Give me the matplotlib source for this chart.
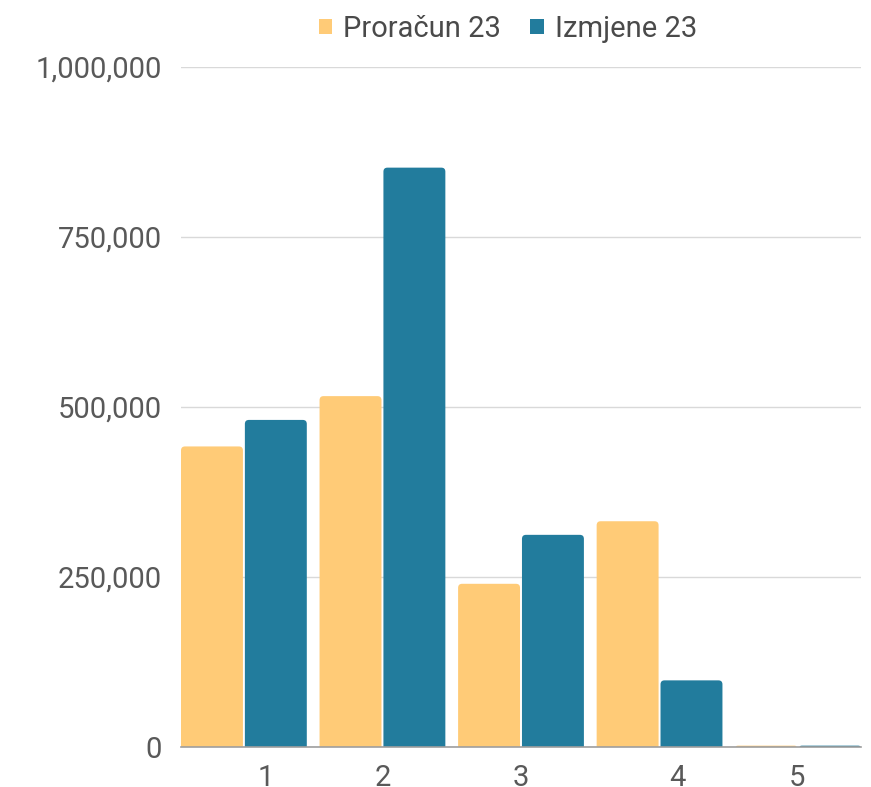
import matplotlib
matplotlib.use("Agg")
import matplotlib.pyplot as plt
import numpy as np
from matplotlib.ticker import FuncFormatter
from matplotlib.patches import FancyBboxPatch

categories = ["1", "2", "3", "4", "5"]
proracun_23 = [442000, 516000, 240000, 332000, 2000]
izmjene_23 = [481000, 852000, 312000, 98000, 2000]
series_names = ["Proračun 23", "Izmjene 23"]
y_ticks = [0, 250000, 500000, 750000, 1000000]

# label x-offsets (in group units) as they appear in the reference
label_offsets = [0.16, 0.0, 0.0, 0.13, -0.01]

plt.rcParams['font.family'] = ['Roboto', 'DejaVu Sans']

fig = plt.figure(figsize=(8.71, 7.87), dpi=100)
ax = fig.add_axes([181/871, 40/787, 680/871, 680/787])

x = np.arange(1, len(categories) + 1)
w = 0.447
gap = 0.014
c1, c2 = "#FFCB77", "#227C9D"
b1 = ax.bar(x - w/2 - gap/2, proracun_23, width=w, color=c1, label=series_names[0], zorder=3)
b2 = ax.bar(x + w/2 + gap/2, izmjene_23, width=w, color=c2, label=series_names[1], zorder=3)

ax.set_xlim(0.546, 5.454)
ax.set_ylim(0, 1000000)

# rounded top corners (radius ~4 px)
rx = 4 / 138.75
ry = 4 / 680 * 1000000
aspect = ry / rx
for bars, col in ((b1, c1), (b2, c2)):
    for r in bars:
        r.set_visible(False)
        bx, by = r.get_x(), r.get_y()
        bw, bh = r.get_width(), r.get_height()
        htot = bh + ry
        rs = min(rx, htot / aspect / 2, bw / 2)
        p = FancyBboxPatch((bx, by - ry), bw, htot,
                           boxstyle=f"round,pad=0,rounding_size={rs}",
                           mutation_aspect=aspect, facecolor=col, edgecolor='none',
                           zorder=3)
        ax.add_patch(p)

ax.set_yticks(y_ticks)
ax.yaxis.set_major_formatter(FuncFormatter(lambda v, p: f"{int(v):,}"))
ax.grid(axis='y', color='#d9d9d9', linewidth=1, zorder=0)
ax.set_axisbelow(True)
for s in ['top', 'right', 'left']:
    ax.spines[s].set_visible(False)
ax.spines['bottom'].set_color('#9e9e9e')
ax.spines['bottom'].set_linewidth(1.2)
ax.spines['bottom'].set_zorder(4)

ax.set_xticks(x + np.array(label_offsets))
ax.set_xticklabels(categories)
ax.tick_params(axis='x', length=0, pad=12, labelsize=21, labelcolor='#595959')
ax.tick_params(axis='y', length=0, pad=14, labelsize=21, labelcolor='#595959')

leg = fig.legend(handles=[b1, b2], labels=series_names, loc='center',
                 bbox_to_anchor=(508/871, 1 - 29/787), ncol=2, frameon=False,
                 fontsize=21, handlelength=0.45, handleheight=0.45, handletextpad=0.4,
                 columnspacing=1.0, labelcolor='#4a4a4a')
for h in leg.legend_handles:
    h.set_visible(True)

fig.savefig("out.png", dpi=100)
